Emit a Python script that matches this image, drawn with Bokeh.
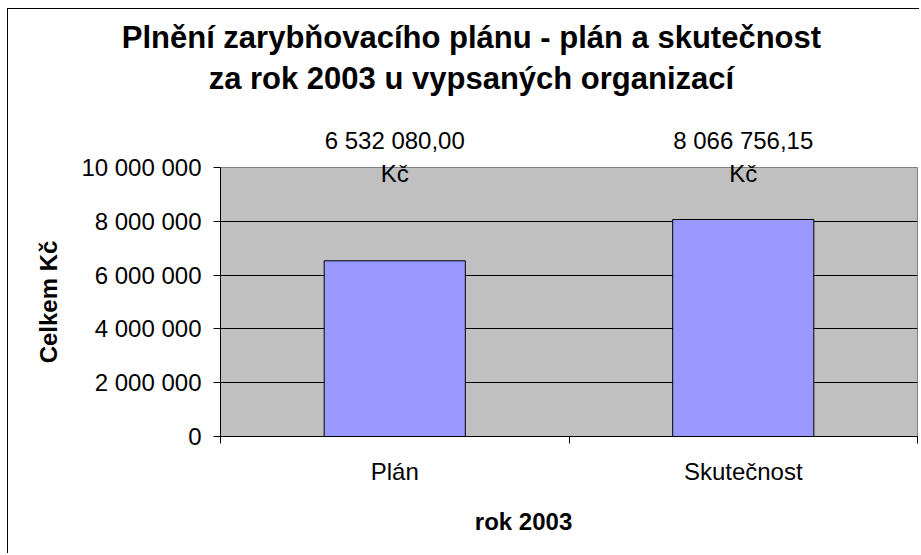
from bokeh.plotting import figure
from bokeh.models import Range1d, FixedTicker, LinearAxis
from bokeh.embed import file_html
from bokeh.resources import INLINE

# ---- data ----
categories = ["Plán", "Skutečnost"]
values = [6532080.00, 8066756.15]
y_ticks = [0, 2000000, 4000000, 6000000, 8000000, 10000000]
y_tick_labels = ["0", "2 000 000", "4 000 000", "6 000 000", "8 000 000", "10 000 000"]
title_lines = ["Plnění zarybňovacího plánu - plán a skutečnost",
               "za rok 2003 u vypsaných organizací"]
x_title = "rok 2003"
y_title = "Celkem Kč"
unit = "Kč"

FONT = "Liberation Sans"
n = len(categories)
y_max = y_ticks[-1]

p = figure(width=912, height=545, output_backend="svg", toolbar_location=None,
           x_range=Range1d(0, n), y_range=Range1d(0, y_max),
           min_border_left=212, min_border_right=3, min_border_top=158,
           min_border_bottom=118)
p.styles = {"margin-left": "7px", "margin-top": "8px",
            "border-left": "1px solid black", "border-top": "1px solid black"}

p.background_fill_color = "#C0C0C0"
p.border_fill_color = "white"
p.outline_line_color = "#808080"
p.outline_line_width = 1

xs = [i + 0.5 for i in range(n)]
p.vbar(x=xs, top=values, width=0.405, bottom=0,
       fill_color="#9999FF", line_color="black", line_width=1)

# y axis
yax = p.yaxis[0]
yax.ticker = FixedTicker(ticks=y_ticks)
yax.major_label_overrides = {t: l for t, l in zip(y_ticks, y_tick_labels)}
yax.major_tick_out = 7
yax.major_tick_in = 0
yax.minor_tick_line_color = None
yax.major_label_text_font = FONT
yax.major_label_text_font_size = "24px"
yax.major_label_text_color = "black"
yax.major_label_standoff = 12
yax.axis_line_color = "black"
yax.major_tick_line_color = "black"
yax.axis_label = y_title
yax.axis_label_text_font = FONT
yax.axis_label_text_font_size = "24px"
yax.axis_label_text_font_style = "bold"
yax.axis_label_text_color = "black"
yax.axis_label_standoff = 16

# x axis (category labels, ticks on category boundaries)
xax = p.xaxis[0]
xax.ticker = FixedTicker(ticks=xs, minor_ticks=list(range(n + 1)))
xax.major_label_overrides = {x: c for x, c in zip(xs, categories)}
xax.major_tick_line_color = None
xax.major_tick_out = 0
xax.major_tick_in = 0
xax.minor_tick_out = 7
xax.minor_tick_in = 0
xax.minor_tick_line_color = "black"
xax.axis_line_color = "black"
xax.major_label_text_font = FONT
xax.major_label_text_font_size = "24px"
xax.major_label_text_color = "black"
xax.major_label_standoff = 14

# grid
p.xgrid.grid_line_color = None
p.ygrid.ticker = FixedTicker(ticks=y_ticks[1:-1])
p.ygrid.grid_line_color = "black"
p.ygrid.grid_line_width = 1


def text_axis(ticks, labels, size, bold, standoff, line_height):
    ax = LinearAxis(ticker=FixedTicker(ticks=ticks, minor_ticks=[]),
                    major_label_overrides=dict(zip(ticks, labels)))
    ax.axis_line_color = None
    ax.major_tick_line_color = None
    ax.minor_tick_line_color = None
    ax.major_tick_out = 0
    ax.major_tick_in = 0
    ax.minor_tick_out = 0
    ax.minor_tick_in = 0
    ax.major_label_text_font = FONT
    ax.major_label_text_font_size = size
    ax.major_label_text_font_style = "bold" if bold else "normal"
    ax.major_label_text_color = "black"
    ax.major_label_text_line_height = line_height
    ax.major_label_standoff = standoff
    return ax


# data labels above the bars
data_labels = [f"{v:,.2f}".replace(",", " ").replace(".", ",") + "\n" + unit
               for v in values]
p.add_layout(text_axis(xs, data_labels, "24px", False, -19, 1.2), "above")

# chart title, centred on the whole chart area
title_x = n * 0.36
p.add_layout(text_axis([title_x], ["\n".join(title_lines)], "31px", True, 29, 1.16),
             "above")

# x axis title
x_title_pos = n * 0.4348
p.add_layout(text_axis([x_title_pos], [x_title], "24px", True, 20, 1.2), "below")

open("out.html", "w").write(file_html(p, INLINE))
